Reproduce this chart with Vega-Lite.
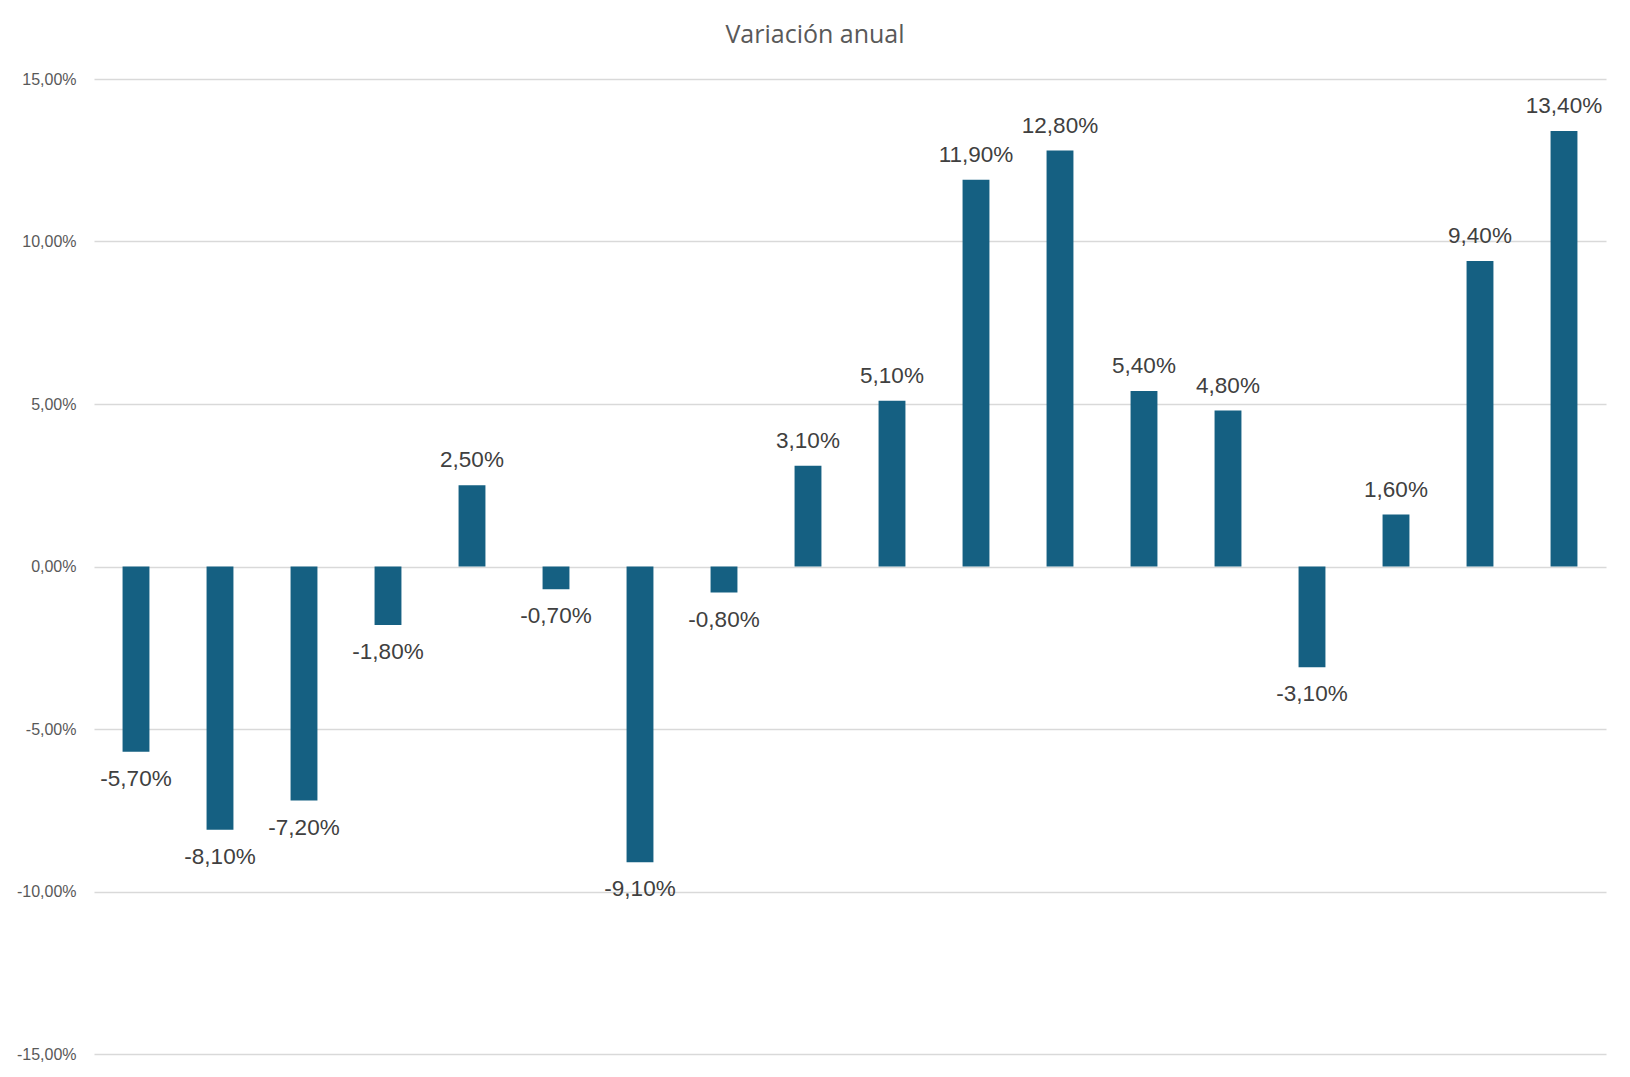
{
  "$schema": "https://vega.github.io/schema/vega-lite/v6.json",
  "description": "Variación anual",
  "width": 1512,
  "height": 975,
  "autosize": {"type": "none"},
  "padding": {"left": 94, "top": 79, "right": 24, "bottom": 23},
  "background": "#ffffff",
  "title": {
    "text": "Variación anual",
    "font": "Open Sans",
    "fontSize": 25,
    "fontWeight": "normal",
    "color": "#595959",
    "anchor": "middle",
    "dx": -35,
    "offset": 23
  },
  "data": {
    "values": [
      {"period": 1, "change": -0.057},
      {"period": 2, "change": -0.081},
      {"period": 3, "change": -0.072},
      {"period": 4, "change": -0.018},
      {"period": 5, "change": 0.025},
      {"period": 6, "change": -0.007},
      {"period": 7, "change": -0.091},
      {"period": 8, "change": -0.008},
      {"period": 9, "change": 0.031},
      {"period": 10, "change": 0.051},
      {"period": 11, "change": 0.119},
      {"period": 12, "change": 0.128},
      {"period": 13, "change": 0.054},
      {"period": 14, "change": 0.048},
      {"period": 15, "change": -0.031},
      {"period": 16, "change": 0.016},
      {"period": 17, "change": 0.094},
      {"period": 18, "change": 0.134}
    ]
  },
  "encoding": {
    "x": {
      "field": "period",
      "type": "ordinal",
      "scale": {"paddingInner": 0.68, "paddingOuter": 0.34},
      "axis": null
    },
    "y": {
      "field": "change",
      "type": "quantitative",
      "scale": {"domain": [-0.15, 0.15], "nice": false},
      "axis": {
        "title": null,
        "format": ".2%",
        "values": [-0.15, -0.1, -0.05, 0, 0.05, 0.1, 0.15],
        "domain": false,
        "ticks": false,
        "labelPadding": 18,
        "labelFont": "Liberation Sans",
        "labelFontSize": 16,
        "labelColor": "#595959",
        "gridColor": "#D9D9D9",
        "gridWidth": 1.3
      }
    }
  },
  "layer": [
    {"mark": {"type": "bar", "color": "#156082"}},
    {
      "transform": [{"filter": "datum.change >= 0"}],
      "mark": {
        "type": "text",
        "baseline": "alphabetic",
        "dy": -18,
        "font": "Liberation Sans",
        "fontSize": 22.5,
        "color": "#404040"
      },
      "encoding": {"text": {"field": "change", "type": "quantitative", "format": ".2%"}}
    },
    {
      "transform": [{"filter": "datum.change < 0"}],
      "mark": {
        "type": "text",
        "baseline": "alphabetic",
        "dy": 34,
        "font": "Liberation Sans",
        "fontSize": 22.5,
        "color": "#404040"
      },
      "encoding": {"text": {"field": "change", "type": "quantitative", "format": ".2%"}}
    }
  ],
  "config": {
    "view": {"stroke": null},
    "locale": {
      "number": {
        "decimal": ",",
        "thousands": ".",
        "grouping": [3],
        "currency": ["", " €"],
        "minus": "-"
      }
    }
  }
}
